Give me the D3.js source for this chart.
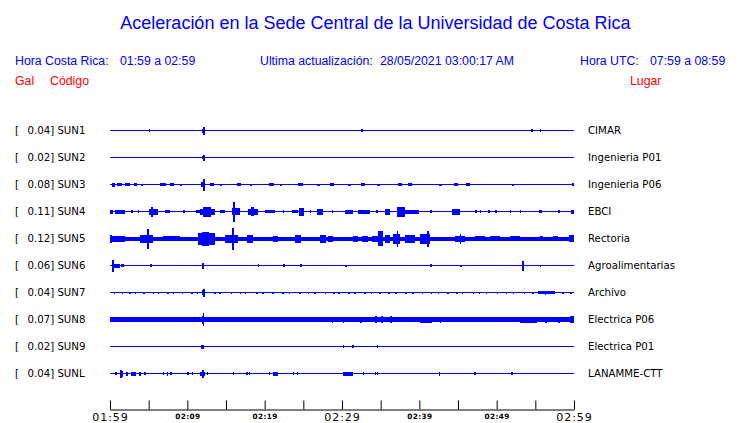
<!DOCTYPE html>
<html><head><meta charset="utf-8">
<script src="https://cdn.jsdelivr.net/npm/d3@7"></script>
<style>
html,body{margin:0;padding:0;background:#fff;}
svg{display:block;}
</style></head>
<body>
<script>
// ---------- DATA (time in minutes after 01:59, amplitude in trace units) ----------
const stations = ["SUN1","SUN2","SUN3","SUN4","SUN5","SUN6","SUN7","SUN8","SUN9","SUNL"];
const galValues = [0.04,0.02,0.08,0.11,0.12,0.06,0.04,0.07,0.02,0.04];
const places = ["CIMAR","Ingenieria P01","Ingenieria P06","EBCI","Rectoria","Agroalimentarias","Archivo","Electrica P06","Electrica P01","LANAMME-CTT"];
const baseAmp = [0.5,0.5,0.5,0.5,2,0.5,0.5,2.3,0.5,0.5];
const tickMinutes = [0,5,10,15,20,25,30,35,40,45,50,55,60];
const tickLabels = ["01:59","","02:09","","02:19","","02:29","","02:39","","02:49","","02:59"];
const majorTicks = ["01:59","02:29","02:59"];

// bursts: [start, end, half-amplitude]
const eventsSUN1 = [[5.04,5.04,1.5],[11.9,12.2,2],[12.03,12.03,4],[32.46,32.46,1.5],[54.44,54.44,1.5],[55.6,55.6,1.5]];
const eventsSUN2 = [[11.9,12.2,1.5],[12.03,12.03,3]];
const eventsSUN3 = [[0.2,0.6,2],[0.9,1.6,1.5],[1.9,2.6,1.5],[3.1,3.5,1.2],[4.0,4.3,1],[6.5,7.2,1.5],[7.8,8.3,1.2],[9.0,9.3,1],[11.8,12.3,2.5],[12.03,12.03,6],[12.9,13.4,1.5],[14.2,14.5,1],[16.4,17.0,1.5],[18.1,18.4,1],[20.6,21.2,1.5],[22.0,22.3,1],[24.3,24.9,1.5],[26.8,27.2,1],[28.4,29.0,1.2],[30.8,31.2,1],[32.4,33.0,1.5],[34.5,34.9,1],[37.2,37.8,1.5],[38.5,39.1,1.5],[42.5,42.9,1],[44.5,45.0,1.5],[46.0,46.5,1.5],[52.0,52.3,1],[59.8,60,1.5]];
const eventsSUN4 = [[0,0.39,2],[0.65,1.94,2],[2.72,2.72,1.5],[3.62,3.62,1.5],[5.0,6.2,3],[5.3,5.6,5],[7.1,7.8,1.5],[9.44,9.44,1.5],[11.12,11.64,1.5],[11.6,13.6,3],[12.0,13.0,5],[14.2,14.9,1.5],[15.9,16.1,10],[15.8,16.8,3.5],[17.9,19.2,3],[18.2,18.6,4.5],[20.0,21.3,1.5],[22.37,22.37,1.5],[23.5,24.3,1.5],[24.5,25.1,4],[25.86,25.86,1.5],[26.8,27.5,3],[28.7,28.7,1.5],[30.4,31.4,2],[32.1,33.6,2],[34.4,34.6,1.5],[35.6,36.2,3],[37.1,38.1,5],[38.1,40.0,2],[41.4,41.4,1.5],[44.2,45.3,3],[47.2,47.2,1.5],[47.84,47.84,1.5],[48.9,48.9,1.5],[49.8,49.8,1.5],[51.7,51.9,1.5],[53.0,53.2,1.5],[55.5,55.9,1.5],[57.9,58.2,1.5],[59.6,60,2]];
const eventsSUN5 = [[0,1.94,3],[0,0.3,4],[3.88,5.56,4],[4.8,5.0,10],[6.85,9.05,2.7],[11.38,13.58,6],[11.9,12.8,7],[14.87,16.55,4],[15.78,15.9,11],[17.72,18.49,4],[21.08,21.72,3],[23.9,24.7,4],[27.15,27.93,4],[28.19,28.83,3],[31.42,32.07,3],[32.59,33.36,3],[33.88,34.65,3],[34.65,35.3,7.5],[35.56,36.21,4],[36.6,37.5,5],[37.1,37.3,8],[38.14,39.44,4],[40.08,41.38,5],[41.0,41.2,8],[44.61,45.9,3],[45.2,45.3,5],[47.2,48.49,2.7],[49.14,50.43,2.7],[51.72,53.02,2.7],[55.6,56.0,2.7],[57.3,57.9,2.7],[59.3,60,3.5]];
const eventsSUN6 = [[0.3,0.4,6],[0.2,1.3,2],[1.4,1.8,1.5],[5.2,5.3,1.5],[11.9,12.2,3],[19.1,19.2,1.5],[22.4,22.5,1.5],[24.6,24.6,1.5],[30.4,30.4,1],[41.4,41.5,1.5],[45.3,45.3,1],[53.3,53.5,5],[55.6,55.6,1]];
const eventsSUN7 = [[0.5,0.5,1],[1.5,1.5,1],[2.5,2.5,1],[3.2,3.2,1],[4.3,4.3,1],[5.5,5.5,1],[6.2,6.2,1],[7.4,7.4,1],[8.1,8.1,1],[9.3,9.3,1],[10.5,10.5,1],[11.2,11.2,1],[11.9,12.2,2.5],[12.03,12.03,4],[13.5,13.5,1],[14.1,14.1,1],[15.6,15.6,1],[16.8,16.8,1],[17.4,17.4,1],[18.9,18.9,1],[19.7,19.7,1],[21.0,21.0,1],[22.3,22.3,1],[23.1,23.1,1],[24.5,24.5,1],[25.6,25.6,1],[26.4,26.4,1],[27.8,27.8,1],[28.9,28.9,1],[29.5,29.5,1],[30.8,30.8,1],[31.6,31.6,1],[32.9,32.9,1],[33.7,33.7,1],[34.8,34.8,1],[36.0,36.0,1],[36.9,36.9,1],[38.2,38.2,1],[39.1,39.1,1],[40.3,40.3,1],[41.5,41.5,1],[42.4,42.4,1],[43.6,43.6,1],[44.8,44.8,1],[45.5,45.5,1],[46.9,46.9,1],[47.7,47.7,1],[48.6,48.6,1],[50.0,50.0,1],[51.2,51.2,1],[52.1,52.1,1],[53.5,53.5,1],[54.6,54.6,1],[55.4,57.6,1.5],[56.2,56.4,2],[58.5,58.5,1],[59.5,59.5,1]];
const eventsSUN8 = [[11.9,12.2,4],[12.0,12.1,6.5],[28.7,28.7,3],[30.1,30.1,3],[32.33,32.33,3],[34.0,37.0,2.7],[34.3,34.5,3.5],[35.0,35.3,3.5],[36.2,36.5,3.5],[40.1,41.6,3],[42.67,42.67,3],[53.0,55.2,3],[56.25,56.25,3],[57.9,58.2,3],[59.5,60,3.5]];
const eventsSUN9 = [[11.8,12.2,2],[30.1,30.1,1.5],[31.3,31.3,1.5],[34.5,34.5,1.5]];
const eventsSUNL = [[0.65,0.65,1.5],[1.29,1.68,3],[1.3,1.5,4],[2.07,2.07,2],[2.72,3.36,2],[3.75,3.75,2],[4.4,4.4,1.5],[6.85,6.85,1.5],[7.37,7.37,2],[7.76,7.76,1.5],[9.96,9.96,1.5],[10.6,10.6,1.5],[11.64,12.28,2],[11.9,12.1,4],[12.54,12.54,1.5],[15.9,15.9,1.5],[17.59,17.59,1.5],[17.97,17.97,1.5],[20.56,20.56,1.5],[21.08,21.72,2],[23.66,23.66,1.5],[24.18,24.18,1.5],[30.13,31.42,2],[32.71,32.71,1.5],[34.26,34.26,1.5],[34.52,34.52,1.5],[42.54,42.6,2],[47.07,47.07,1.5],[51.9,52.1,1.5]];
const allEvents = [eventsSUN1,eventsSUN2,eventsSUN3,eventsSUN4,eventsSUN5,eventsSUN6,eventsSUN7,eventsSUN8,eventsSUN9,eventsSUNL];

// ---------- DRAW ----------
const W = 740, H = 423;
const blue = "#0000ff", red = "#ff0000";
const svg = d3.select("body").append("svg").attr("width", W).attr("height", H);

const x = d3.scaleLinear().domain([0, 60]).range([110, 574]);
const y = d3.scalePoint().domain(stations).range([130.5, 373.5]);
const amp = d3.scaleLinear().domain([0, 10]).range([0, 10]);

// Title & header
svg.append("text").attr("x", 375.5).attr("y", 29).attr("text-anchor", "middle")
  .attr("font-family", "Liberation Sans, Arial, sans-serif").attr("font-size", 18)
  .attr("fill", blue).text("Aceleración en la Sede Central de la Universidad de Costa Rica");

const hdr = (tx, xx, yy, col, anchor) => svg.append("text").attr("x", xx).attr("y", yy)
  .attr("text-anchor", anchor || "start")
  .attr("font-family", "Liberation Sans, Arial, sans-serif").attr("font-size", 12.3)
  .attr("fill", col).text(tx);
hdr("Hora Costa Rica:", 15, 65, blue);
hdr("01:59 a 02:59", 120, 65, blue);
hdr("Ultima actualización:", 260, 65, blue);
hdr("28/05/2021 03:00:17 AM", 380, 65, blue);
hdr("Hora UTC:", 580, 65, blue);
hdr("07:59 a 08:59", 650, 65, blue);
hdr("Gal", 15, 85, red);
hdr("Código", 50, 85, red);
hdr("Lugar", 630, 85, red);

// station labels
const lab = svg.append("g").attr("font-family", "DejaVu Sans, sans-serif").attr("font-size", 10.2).attr("fill", "#000");
stations.forEach((s, i) => {
  const yy = y(s) + 3.6;
  lab.append("text").attr("x", 15).attr("y", yy).text("[");
  lab.append("text").attr("x", 27.5).attr("y", yy).text(galValues[i].toFixed(2) + "] " + s);
  lab.append("text").attr("x", 588).attr("y", yy).text(places[i]);
});

// traces
const tr = svg.append("g").attr("fill", blue).attr("shape-rendering", "crispEdges");
stations.forEach((s, i) => {
  const g = tr.append("g");
  const y0 = y(s);
  const b = Math.max(0.5, amp(baseAmp[i]));
  g.append("rect").attr("x", x(0)).attr("width", x(60) - x(0))
    .attr("y", y0 - b).attr("height", 2 * b);
  g.selectAll("rect.ev").data(allEvents[i]).join("rect").attr("class", "ev")
    .attr("x", d => Math.min(x(d[0]), x(60) - 1.5))
    .attr("width", d => Math.max(1.5, x(d[1]) - x(d[0])))
    .attr("y", d => y0 - amp(d[2]))
    .attr("height", d => 2 * amp(d[2]));
});

// axis
const axis = d3.axisBottom(x).tickValues(tickMinutes).tickSize(-9).tickSizeOuter(0).tickPadding(4)
  .tickFormat((d, i) => tickLabels[i]);
const ag = svg.append("g").attr("transform", "translate(0,409.5)").call(axis);
ag.select(".domain").attr("stroke", "#000");
ag.selectAll(".tick line").attr("stroke", "#000");
ag.selectAll(".tick text").attr("fill", "#000")
  .attr("font-family", "DejaVu Sans, sans-serif")
  .each(function(d, i) {
    const t = d3.select(this);
    if (majorTicks.includes(tickLabels[i])) {
      t.attr("font-size", 11).attr("letter-spacing", 1);
    } else {
      t.attr("font-size", 7.3).attr("font-weight", "bold").attr("letter-spacing", 0.4);
    }
  });
</script>
</body></html>
